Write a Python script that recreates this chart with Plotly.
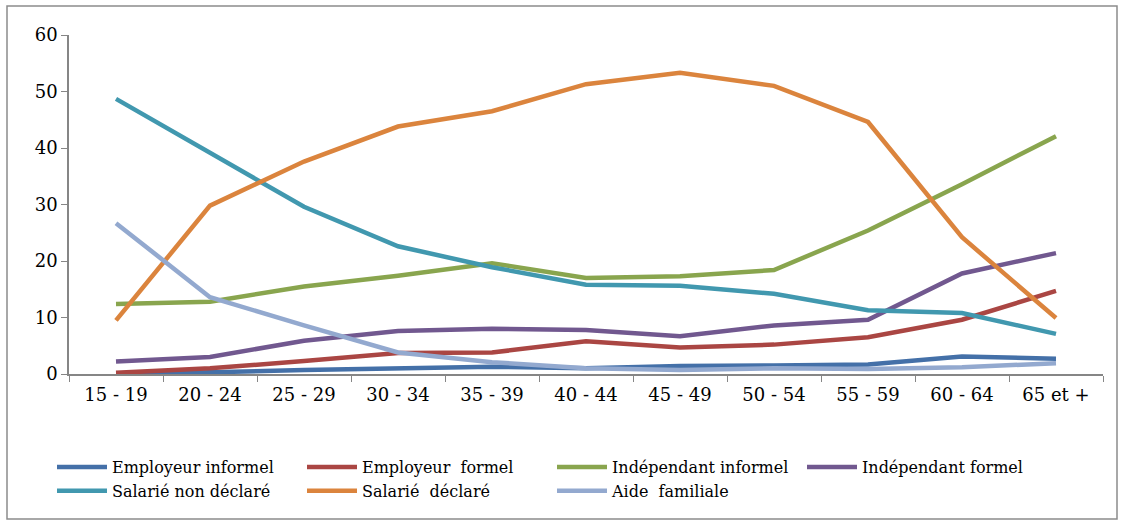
import plotly.graph_objects as go

categories = ["15 - 19", "20 - 24", "25 - 29", "30 - 34", "35 - 39", "40 - 44",
              "45 - 49", "50 - 54", "55 - 59", "60 - 64", "65 et +"]

employeur_informel = [0.1, 0.3, 0.7, 1.0, 1.3, 1.0, 1.4, 1.5, 1.7, 3.1, 2.7]
employeur_formel = [0.2, 1.0, 2.3, 3.7, 3.8, 5.8, 4.7, 5.2, 6.5, 9.6, 14.7]
independant_informel = [12.4, 12.8, 15.5, 17.4, 19.6, 17.0, 17.3, 18.4, 25.4, 33.6, 42.1]
independant_formel = [2.2, 3.0, 5.9, 7.6, 8.0, 7.8, 6.7, 8.6, 9.6, 17.8, 21.4]
salarie_non_declare = [48.7, 39.2, 29.6, 22.6, 18.9, 15.8, 15.6, 14.2, 11.3, 10.8, 7.1]
salarie_declare = [9.5, 29.8, 37.6, 43.8, 46.5, 51.3, 53.3, 51.0, 44.6, 24.2, 9.9]
aide_familiale = [26.7, 13.6, 8.6, 3.8, 2.1, 1.0, 0.7, 1.0, 0.9, 1.2, 1.9]

series = [
    ("Employeur informel", employeur_informel, "#4470A8"),
    ("Employeur  formel", employeur_formel, "#AA4643"),
    ("Indépendant informel", independant_informel, "#89A54E"),
    ("Indépendant formel", independant_formel, "#71588F"),
    ("Salarié non déclaré", salarie_non_declare, "#4198AF"),
    ("Salarié  déclaré", salarie_declare, "#DB843D"),
    ("Aide  familiale", aide_familiale, "#93A9CF"),
]

fig = go.Figure()
for name, vals, color in series:
    fig.add_trace(go.Scatter(x=categories, y=vals, mode="lines", name=name,
                             line=dict(color=color, width=4.5)))

W, H = 1123, 521
ml, mr, mt, mb = 69, 20, 35, 147
pw = W - ml - mr
ph = H - mt - mb

def px_x(p):
    return (p - ml) / pw

def px_y(p):
    return (H - mb - p) / ph

font = "DejaVu Serif"

fig.update_layout(
    width=W, height=H,
    margin=dict(l=ml, r=mr, t=mt, b=mb, autoexpand=False),
    paper_bgcolor="white", plot_bgcolor="white",
    font=dict(family=font, size=18, color="black"),
    showlegend=True,
    legend=dict(orientation="h", x=px_x(52), y=px_y(450), xanchor="left", yanchor="top",
                entrywidth=185, entrywidthmode="pixels",
                font=dict(family=font, size=16, color="black"),
                tracegroupgap=0, itemwidth=50),
    xaxis=dict(type="category", range=[-0.5, 10.5], showgrid=False,
               showline=True, linecolor="#868686", linewidth=1.5,
               ticks="outside", tickson="boundaries", ticklen=6, tickcolor="#868686",
               ticklabelstandoff=4,
               tickfont=dict(family=font, size=18, color="black")),
    yaxis=dict(range=[0, 60], dtick=10, showgrid=False, zeroline=False,
               showline=True, linecolor="#868686", linewidth=1.5,
               ticks="outside", ticklen=6, tickcolor="#868686",
               tickfont=dict(family=font, size=18, color="black")),
    shapes=[dict(type="rect", xref="paper", yref="paper",
                 x0=px_x(7), x1=px_x(1117), y0=px_y(519), y1=px_y(6),
                 line=dict(color="#8C8C8C", width=1.5), fillcolor="rgba(0,0,0,0)",
                 layer="below")],
)

fig.write_html("out.html")
